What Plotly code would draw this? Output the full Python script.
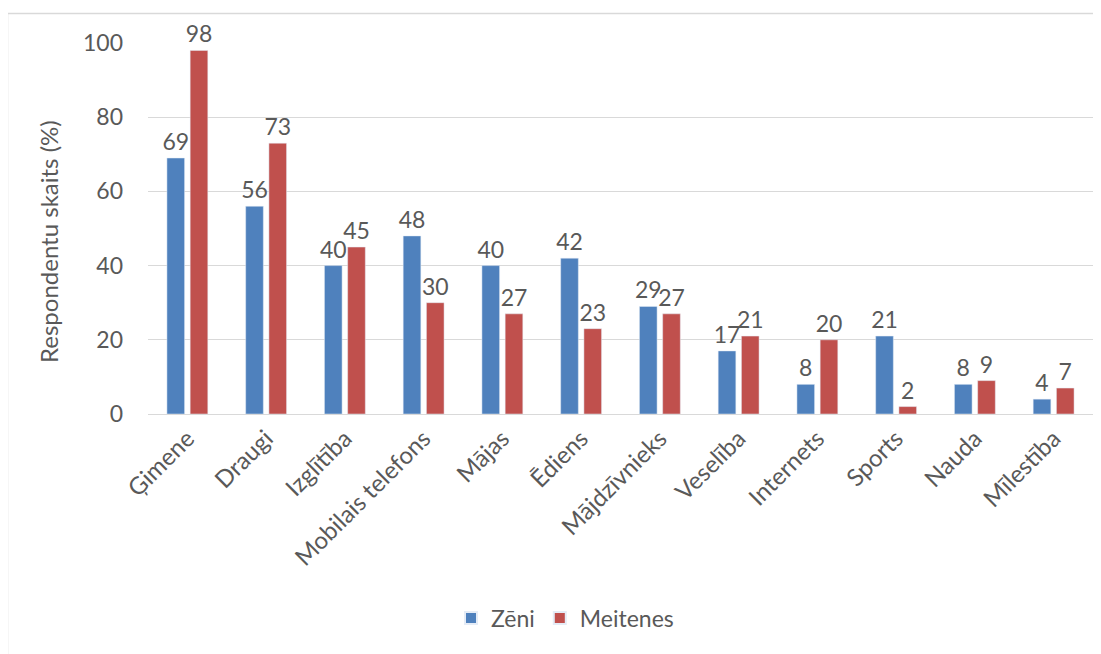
import plotly.graph_objects as go

categories = ["Ģimene", "Draugi", "Izglītība", "Mobilais telefons", "Mājas", "Ēdiens",
              "Mājdzīvnieks", "Veselība", "Internets", "Sports", "Nauda", "Mīlestība"]
zeni = [69, 56, 40, 48, 40, 42, 29, 17, 8, 21, 8, 4]
meitenes = [98, 73, 45, 30, 27, 23, 27, 21, 20, 2, 9, 7]
y_ticks = [0, 20, 40, 60, 80, 100]

FONT = "Lato"
TXT = "#595959"
FS = 23

OFF = 8  # page body margin
W, H = 1101 - OFF, 654 - OFF
L, R, T, B = 148 - OFF, 16 - OFF, 43 - OFF, 248 - OFF
pw, ph = W - L - R, H - T - B

def px_x(x):
    return (x - OFF - L) / pw

def px_y(y):
    return (T + ph - (y - OFF)) / ph

fig = go.Figure()
fig.add_trace(go.Bar(x=categories, y=zeni, name="Zēni", marker_color="#4F81BD",
                     text=zeni, textposition="outside", cliponaxis=False, constraintext="none",
                     textfont=dict(family=FONT, size=FS, color=TXT)))
fig.add_trace(go.Bar(x=categories, y=meitenes, name="Meitenes", marker_color="#C0504D",
                     text=meitenes, textposition="outside", cliponaxis=False, constraintext="none",
                     textfont=dict(family=FONT, size=FS, color=TXT)))

fig.update_layout(
    width=W, height=H,
    margin=dict(l=L, r=R, t=T, b=B, autoexpand=False),
    paper_bgcolor="white", plot_bgcolor="white",
    font=dict(family=FONT, size=FS, color=TXT),
    barmode="group", bargap=0.41, bargroupgap=0.24,
    showlegend=True,
    legend=dict(orientation="h", x=px_x(565), xanchor="center", y=px_y(618), yanchor="middle",
                font=dict(family=FONT, size=FS, color=TXT), itemsizing="constant"),
    xaxis=dict(tickangle=-45, showgrid=False, showline=True, linecolor="#D9D9D9", linewidth=1,
               ticks="", tickfont=dict(family=FONT, size=24, color=TXT)),
    yaxis=dict(range=[0, 100], tickvals=y_ticks, showgrid=True, gridcolor="#D9D9D9", gridwidth=1,
               zeroline=False, showline=False, ticks="", ticklabelstandoff=24,
               tickfont=dict(family=FONT, size=FS, color=TXT)),
    annotations=[dict(text="Respondentu skaits (%)", textangle=-90, xref="paper", yref="paper",
                      x=px_x(48), y=px_y(242), xanchor="center", yanchor="middle", showarrow=False,
                      font=dict(family=FONT, size=24, color=TXT))],
    shapes=[dict(type="rect", xref="paper", yref="paper", x0=px_x(7.5), x1=px_x(1120),
                 y0=px_y(13.5), y1=px_y(670), line=dict(color="#D9D9D9", width=1.5),
                 fillcolor="rgba(0,0,0,0)", layer="below")],
)

fig.write_html("out.html")
